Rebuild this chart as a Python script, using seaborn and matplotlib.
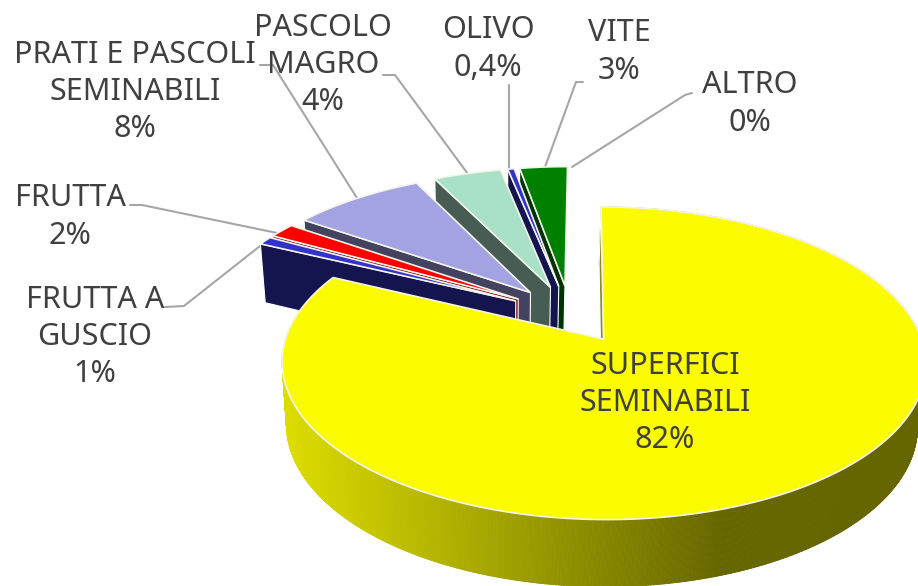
'''
exploded 3d style pie of land use shares, drawn with plain polygons
'''
import numpy as np
import seaborn as sns
import matplotlib.pyplot as plt

# --- Data ---
CATEGORIES = ["SUPERFICI\nSEMINABILI", "FRUTTA A\nGUSCIO", "FRUTTA", "PRATI E PASCOLI\nSEMINABILI",
              "PASCOLO\nMAGRO", "OLIVO", "VITE", "ALTRO"]
SHARES = [82.0, 0.9, 1.6, 8.0, 4.1, 0.4, 2.9, 0.0]
SHARE_LABELS = ["82%", "1%", "2%", "8%", "4%", "0,4%", "3%", "0%"]
TOP_COLORS = ["#FCFC00", "#3333CC", "#FF0000", "#A3A3E3", "#A8E0C8", "#3333CC", "#008000", "#008000"]
WALL_COLORS = ["#8A8A30", "#14144F", "#800000", "#43435F", "#475C52", "#14144F", "#003300", "#003300"]

# label centre and leader line for each category, in pixels
LABEL_POS = [(665, 403), (95, 337), (70, 217), (135, 92), (323, 65), (488, 49), (619, 52), (750, 104)]
LEADERS = [None,
           [(165, 307), (184, 306), (260, 246)],
           [(130, 205), (142, 205), (282, 234)],
           [(260, 65), (273, 65), (357, 198)],
           [(383, 75), (395, 75), (468, 174)],
           [(509, 85), (509, 170)],
           [(583, 82), (576, 82), (545, 167)],
           [(692, 93), (685, 95), (572, 167)]]

# --- Projection settings ---
CX, CY = 570, 314
PX = 585  # horizontal vanishing point
RX, RY = 310, 145
PERSP = 0.15
EXPLODE = 0.20
# the underside is the top face shrunk a little and pushed down
VX, BOTTOM_SX, BOTTOM_SY, DEPTH = 500, 0.98, 1.03, 61


def project(x, y):
    p = 1 / (1 + PERSP * y)
    return PX + (CX - PX + RX * x) * p, CY - RY * y * p


def underside(sx, sy):
    return VX + (sx - VX) * BOTTOM_SX, CY + (sy - CY) * BOTTOM_SY + DEPTH


def slice_outline(start, end):
    """apex and outer arc of a slice, angles in degrees clockwise from 12 o'clock"""
    mid = np.radians((start + end) / 2)
    ox, oy = EXPLODE * np.sin(mid), EXPLODE * np.cos(mid)
    theta = np.radians(np.linspace(start, end, max(int(end - start) * 4, 8)))
    sx, sy = project(ox + np.sin(theta), oy + np.cos(theta))
    apex = project(ox, oy)
    return apex, sx, sy


sns.set_theme(style="white")
plt.rcParams['font.family'] = ['Noto Sans', 'DejaVu Sans']

fig, ax = plt.subplots(figsize=(9.18, 5.86), dpi=100)
fig.subplots_adjust(0, 0, 1, 1)
ax.set_xlim(0, 918)
ax.set_ylim(586, 0)
ax.axis("off")

edges = np.cumsum([0] + SHARES) / sum(SHARES) * 360
side_colors = sns.blend_palette(["#DCDC00", "#666600"], 220)

# back slices first, the big one goes on top of everything
for i in list(range(len(SHARES) - 1, 0, -1)) + [0]:
    if SHARES[i] <= 0:
        continue
    apex, sx, sy = slice_outline(edges[i], edges[i + 1])
    bx, by = underside(sx, sy)
    abx, aby = underside(*apex)

    if i == 0:
        # outer rim, shaded from left to right
        for j in range(len(sx) - 1):
            t = np.clip((sx[j] - 285) / (725 - 285), 0, 1)
            col = side_colors[int(t * 219)]
            ax.fill([sx[j], sx[j + 1], bx[j + 1], bx[j]], [sy[j], sy[j + 1], by[j + 1], by[j]],
                    color=col, lw=0.6, zorder=2)

    # radial wall on the side of the slice start
    ax.fill([apex[0], sx[0], bx[0], abx], [apex[1], sy[0], by[0], aby],
            facecolor=WALL_COLORS[i], edgecolor="white", lw=0.8, zorder=3 + (len(SHARES) - i))
    ax.fill(np.r_[apex[0], sx], np.r_[apex[1], sy], facecolor=TOP_COLORS[i],
            edgecolor="#F4F4EA", lw=1.2, joinstyle="miter", zorder=3 + (len(SHARES) - i))

for name, share, pos, leader in zip(CATEGORIES, SHARE_LABELS, LABEL_POS, LEADERS):
    ax.text(pos[0], pos[1], f"{name}\n{share}", ha="center", va="center", fontsize=22,
            color="#404040", linespacing=1.32, zorder=30)
    if leader:
        ax.plot(*zip(*leader), color="#A6A6A6", lw=1.5, zorder=1)

fig.savefig("out.png", dpi=100)
